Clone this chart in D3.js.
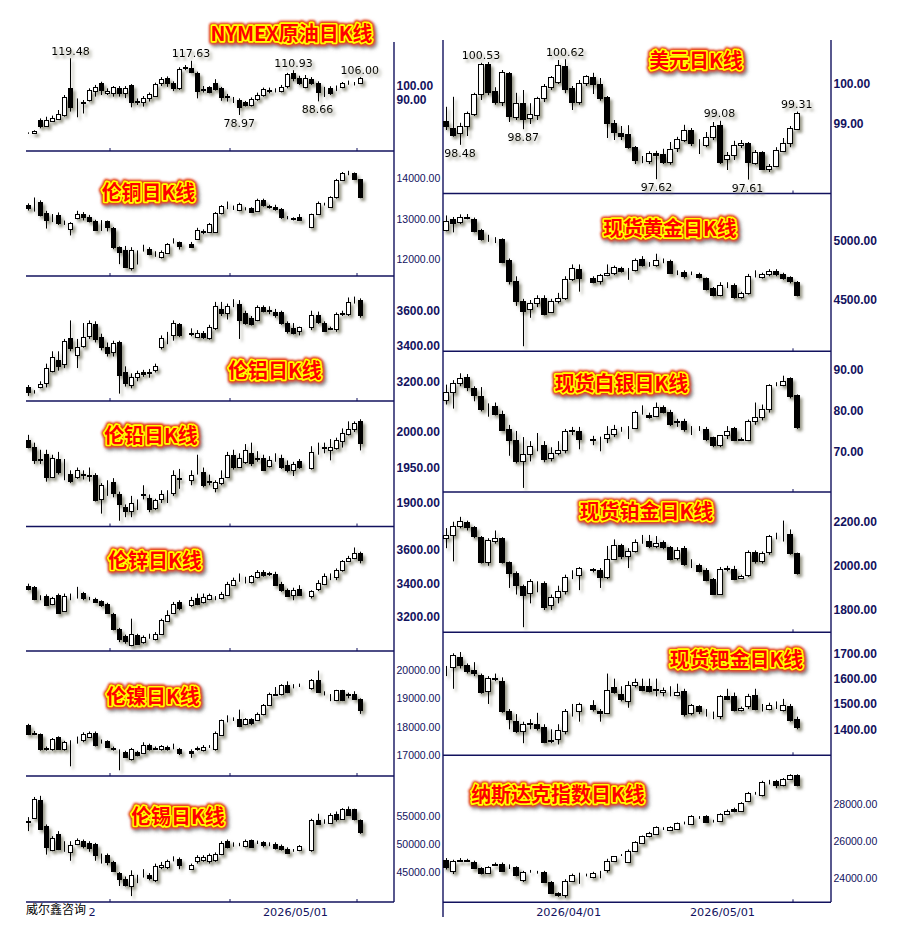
<!DOCTYPE html>
<html><head><meta charset="utf-8">
<script src="https://d3js.org/d3.v7.min.js"></script>
<style>body{margin:0;background:#fff}svg{display:block}</style>
</head><body>
<svg id="c" width="903" height="928"></svg>
<script>
// ---- DATA: daily candles [open, high, low, close]; null = no trading day ----
const oil = [[65.8,66.5,65.5,65.9],[65.8,68,65.5,67.5],[75.4,76.5,69.4,71.1],[71.1,77.7,70.6,75.4],[75,78.5,74.2,77],[76.1,82.5,75.4,79.4],[79,93.2,77.7,92],[98,119.48,81.3,84.9],[86.8,90.8,77.3,86.6],[87.3,89.6,80,88.5],[89.6,98,88.5,96.8],[96.3,100.4,92,99.2],[101.5,102.7,93.2,96.8],[94.4,98,93.2,96.3],[94.9,99.6,92,98.7],[98,99.6,92,94.9],[94.4,99.6,91,98],[100.4,101,84.4,88.5],[88.7,90.8,86.1,88.3],[88.5,92.5,84.9,91.3],[90.8,95,88.5,93.7],[92.5,102,92,101],[102,106,99.6,104.6],[105.1,106.5,99,101.5],[102,103,96,98],[98,113,96.8,111.5],[112.8,114.6,110.9,113],[112.7,117.63,108.8,109.9],[108.7,109.9,90.8,96.3],[97.8,99.6,94.9,96.8],[98.7,99.5,94.4,95.6],[101.5,104.5,96.3,97.3],[98,99,89,92],[92.2,94,88.5,92],[89.9,91.8,87.5,89.6],[89.6,90.8,78.97,84.4],[88,89,84.9,85.8],[85.8,91.5,84.9,90.1],[90.1,94.9,89,92.9],[92.9,98.5,92,97.3],[96.5,98.5,94.4,96.3],[96.6,98,95,96.8],[96.3,100.4,95,99.2],[99.6,109,98,108.2],[108.7,110.93,103,105.1],[105.1,107,100.4,102],[99.2,107.5,98,105.1],[104.4,106,100.4,101.5],[102,103,88.66,95.6],[97.5,99,91.8,97.3],[98,99.5,93.2,94.4],[98.8,100,96,98.7],[98.7,102.5,98,101.5],[102,103.5,100.5,102],[101.5,102.5,100,101.6],[102,106,101.5,105.1]];
const copper = [[13340,13385,13205,13265],[13300,13530,13180,13290],[13410,13460,13060,13100],[13140,13200,12760,12970],[13000,13120,12920,12995],[13100,13160,12850,12890],[12910,12960,12850,12900],[12740,12920,12590,12890],[13015,13200,12990,13120],[13120,13170,12960,13040],[13050,13100,12910,12950],[12950,12980,12700,12720],[12910,12970,12700,12900],[12940,12960,12690,12800],[12780,12800,12250,12310],[12310,12320,11880,12190],[12230,12330,11790,11820],[11780,12300,11720,12230],[12140,12220,11870,12125],[12280,12360,12190,12270],[12250,12300,12100,12130],[12135,12200,12060,12130],[12050,12220,12020,12190],[12160,12400,12130,12380],[12480,12520,12390,12470],[12420,12440,12240,12340],null,[12380,12430,12280,12310],[12500,12780,12480,12730],[12670,12740,12620,12690],[12680,12900,12660,12870],[12680,13170,12650,13140],[13140,13340,13110,13320],[13290,13430,13240,13285],[13265,13330,13220,13260],[13220,13400,13190,13360],[13250,13290,13210,13245],[13260,13290,13160,13180],[13200,13500,13180,13480],[13470,13500,13300,13340],[13310,13350,13250,13300],[13300,13350,13200,13245],[13245,13270,13000,13040],[13020,13070,12990,13015],[13010,13040,12960,13005],[13055,13120,12960,12970],null,[12800,13130,12770,13120],[13120,13430,13100,13400],[13360,13400,13330,13370],[13300,13560,13290,13530],[13530,13990,13500,13960],[13960,14160,13940,14130],[14140,14190,14080,14130],[14130,14150,13960,14000],[13980,13990,13510,13550]];
const aluminium = [[3170,3179,3117,3141],[3142,3150,3130,3140],[3166,3200,3160,3185],[3192,3300,3165,3274],[3260,3370,3250,3336],[3321,3370,3260,3287],[3298,3440,3275,3430],[3443,3545,3370,3387],[3350,3440,3275,3396],[3400,3530,3390,3453],[3457,3545,3440,3532],[3524,3540,3420,3438],[3453,3470,3375,3392],[3392,3420,3340,3362],[3368,3430,3340,3419],[3425,3430,3130,3236],[3255,3285,3170,3189],[3180,3245,3160,3223],[3223,3260,3200,3245],[3255,3265,3225,3241],[3250,3270,3220,3248],[3264,3300,3250,3287],[3396,3460,3380,3443],[3438,3480,3410,3440],[3462,3545,3430,3532],[3524,3530,3450,3462],null,[3472,3500,3455,3470],[3453,3490,3445,3472],[3475,3485,3440,3449],[3443,3520,3435,3509],[3500,3650,3490,3626],[3607,3650,3570,3585],[3585,3640,3550,3626],[3637,3665,3620,3640],[3638,3660,3440,3547],[3585,3600,3520,3532],[3557,3570,3515,3525],[3547,3630,3540,3619],[3619,3630,3590,3600],[3602,3625,3580,3598],[3594,3610,3560,3575],[3590,3600,3520,3532],[3532,3540,3470,3487],[3500,3530,3465,3475],[3485,3510,3460,3505],null,[3505,3600,3490,3575],[3575,3595,3525,3538],[3532,3540,3480,3487],[3500,3510,3490,3498],[3494,3590,3480,3581],[3583,3600,3570,3585],[3581,3675,3570,3651],[3655,3680,3640,3657],[3660,3670,3560,3575]];
const lead = [[1989,1996,1977,1979],[1979,1985,1955,1960],[1962,1975,1955,1961],[1969,1975,1930,1937],[1937,1968,1935,1963],[1962,1972,1940,1944],[1947,1962,1932,1946],[1941,1946,1928,1931],[1936,1950,1934,1946],[1941,1946,1933,1940],[1939,1950,1930,1938],[1939,1942,1902,1904],[1905,1928,1885,1925],[1926,1932,1910,1925],[1929,1935,1908,1914],[1913,1916,1875,1899],[1894,1898,1880,1889],[1889,1910,1880,1900],[1899,1905,1890,1898],[1912,1925,1905,1911],[1907,1912,1887,1891],[1893,1906,1890,1904],[1905,1918,1900,1913],[1909,1918,1900,1908],[1914,1946,1910,1939],[1934,1948,1920,1935],null,[1932,1946,1925,1939],[1947,1968,1940,1946],[1944,1950,1922,1925],[1931,1940,1925,1930],[1921,1932,1915,1930],[1928,1946,1925,1935],[1937,1972,1935,1968],[1968,1975,1947,1951],[1951,1970,1950,1963],[1958,1983,1955,1975],[1970,1985,1952,1957],[1963,1973,1958,1962],[1964,1968,1945,1947],[1952,1966,1950,1960],[1964,1970,1958,1963],[1963,1968,1948,1951],[1954,1960,1943,1946],[1946,1958,1938,1955],[1959,1962,1948,1951],null,[1949,1980,1947,1972],[1975,1985,1968,1974],[1978,1985,1970,1979],[1974,1990,1960,1979],[1977,1992,1975,1989],[1988,2005,1978,1998],[1997,2015,1995,2004],[2004,2015,2000,2012],[2015,2018,1974,1984]];
const zinc = [[3383,3399,3359,3369],[3379,3385,3300,3305],[3320,3330,3300,3318],[3325,3335,3265,3270],[3280,3320,3270,3313],[3333,3340,3220,3226],[3234,3340,3230,3325],[3320,3340,3300,3319],[3340,3380,3310,3339],[3345,3350,3300,3313],[3310,3320,3300,3309],[3310,3315,3285,3290],[3294,3300,3260,3274],[3280,3285,3220,3226],[3220,3225,3120,3126],[3130,3135,3050,3070],[3086,3095,3040,3055],[3035,3190,3025,3100],[3090,3100,3035,3041],[3051,3090,3040,3080],[3081,3100,3070,3080],[3070,3110,3060,3100],[3100,3190,3095,3180],[3175,3240,3170,3210],[3226,3290,3220,3280],[3290,3300,3240,3254],null,[3274,3320,3260,3300],[3313,3340,3270,3280],[3290,3340,3280,3320],[3305,3340,3300,3333],[3313,3325,3300,3314],[3313,3350,3305,3339],[3333,3410,3330,3399],[3393,3435,3385,3419],[3425,3460,3410,3424],[3420,3440,3400,3419],[3409,3450,3400,3445],[3438,3480,3430,3469],[3469,3480,3440,3449],[3460,3470,3445,3459],[3459,3470,3385,3393],[3400,3410,3350,3360],[3360,3370,3320,3325],[3330,3375,3300,3359],[3365,3390,3325,3333],null,[3325,3360,3310,3353],[3365,3420,3355,3405],[3399,3460,3390,3445],[3445,3460,3420,3446],[3440,3490,3420,3479],[3479,3540,3470,3532],[3535,3565,3530,3552],[3552,3615,3545,3584],[3584,3590,3520,3538]];
const nickel = [[18050,18100,17700,17750],[17760,17850,17700,17750],[17750,17760,17150,17225],[17240,17300,17150,17225],[17200,17600,17150,17550],[17640,17660,17200,17225],[17200,17500,17150,17460],[17470,17520,16600,17460],[17520,17650,17400,17520],[17520,17800,17450,17750],[17640,17830,17600,17790],[17790,17830,17300,17340],[17490,17550,17400,17480],[17480,17520,17250,17280],[17230,17300,17150,17220],[17140,17200,16460,17130],[17100,17150,16900,16930],[16870,17250,16800,17200],[17100,17150,16950,16990],[17080,17450,17050,17370],[17370,17400,17150,17200],[17230,17300,17180,17220],[17200,17350,17150,17320],[17300,17330,17150,17200],[17290,17400,17200,17280],[17220,17250,17000,17080],null,[17150,17200,16900,17080],[17230,17300,17150,17220],[17160,17350,17120,17280],[17290,17350,17250,17280],[17200,17830,17150,17790],[17720,18250,17700,18220],[18240,18400,18150,18250],[18270,18330,18200,18280],[18260,18600,17980,18020],[18100,18300,18050,18260],[18260,18300,18050,18140],[18220,18500,18200,18460],[18460,18800,18400,18780],[18780,19200,18750,19170],[19140,19400,19100,19130],[19160,19500,19100,19460],[19480,19600,19180,19220],[19410,19500,19350,19400],[19460,19520,19400,19460],null,[19370,19680,19300,19640],[19640,19980,19200,19220],[19170,19250,19100,19160],[19090,19150,18900,19080],[18930,19300,18900,19280],[19280,19300,18900,18930],[19140,19200,19000,19130],[19170,19250,18950,18990],[18960,19000,18450,18580]];
const tin = [[54000,54800,52300,54100],[54600,58400,54500,57980],[57800,58600,52500,52700],[53200,53500,48100,49500],[48900,51400,48700,51100],[51850,52300,48900,49170],[49900,50500,48600,49880],[48600,50500,47000,49880],[50050,51000,49800,50800],[50500,50800,49200,49650],[50240,50500,48600,49290],[50060,50200,47000,48100],[48000,48300,46500,47980],[47980,48300,46200,46800],[46800,47000,45000,45120],[44880,45000,42500,43810],[43700,44200,42400,42620],[42500,45300,40700,44400],[43800,44500,43000,43810],[44520,45500,44000,44530],[44520,44800,43500,43930],[43500,46500,43200,46080],[45900,46800,45500,46190],[45900,47200,45500,46900],[47250,47800,46900,47270],[47400,47600,45500,46310],null,[45600,46500,45400,46300],[46900,48000,46500,47680],[47100,48000,46800,47680],[46900,48300,46500,48100],[47100,48500,46800,48280],[48280,50500,48000,50240],[50500,50800,49200,49470],[49900,50300,49500,49880],[49880,50200,49600,49890],[49650,50800,49400,50480],[50650,50800,49300,49470],[50230,50600,50000,50240],[50350,50500,49400,49760],[50060,50300,49600,50050],[50060,50300,49000,49290],[49650,49900,48800,49050],[49170,49400,48200,48460],[48880,49100,48600,48870],[48870,49800,48700,49650],null,[48870,54500,48600,54230],[54230,55400,53400,53630],[53900,54400,53600,53930],[53810,55500,53600,55120],[55400,55800,54000,54400],[54500,56400,54300,56190],[56190,56700,55000,55120],[56190,56300,54200,54400],[54230,54400,51800,52140]];
const usd = [[99.08,99.43,98.85,98.95],[98.89,99.68,98.68,98.73],[98.77,99.03,98.48,98.95],[98.95,99.31,98.70,99.27],[99.25,99.78,99.20,99.74],[99.74,100.53,99.60,100.50],[100.50,100.55,99.72,99.81],[99.83,99.92,99.48,99.56],[99.56,100.35,99.45,100.31],[100.28,100.30,99.05,99.20],[99.17,99.78,99.10,99.52],[99.52,99.85,98.87,99.12],[99.14,99.52,99.00,99.25],[99.22,99.68,99.10,99.64],[99.64,100.00,99.55,99.95],[99.93,100.20,99.85,100.17],[100.06,100.60,100.00,100.48],[100.45,100.62,99.77,99.87],[99.89,99.95,99.35,99.56],[99.56,100.10,99.48,100.02],[100.03,100.22,99.95,100.20],[100.18,100.28,99.75,100.00],[100.00,100.15,99.58,99.64],[99.67,99.70,98.65,99.03],[99.03,99.10,98.60,98.81],[98.78,98.95,98.60,98.70],[98.74,98.97,98.38,98.42],[98.43,98.45,98.00,98.10],[98.11,98.20,98.02,98.10],[98.08,98.32,98.00,98.27],[98.27,98.33,97.62,98.22],[98.25,98.38,98.00,98.06],[98.06,98.55,97.98,98.37],[98.39,98.68,98.30,98.62],[98.60,98.98,98.55,98.85],[98.85,98.90,98.45,98.52],[98.50,98.62,98.25,98.50],[98.48,98.80,98.42,98.68],[98.67,99.05,98.60,98.95],[98.98,99.08,98.00,98.06],[98.12,98.30,97.85,98.23],[98.23,98.58,98.10,98.48],[98.48,98.60,98.40,98.53],[98.52,98.55,97.61,98.06],[98.03,98.35,97.98,98.30],[98.30,98.32,97.85,97.87],[97.87,98.00,97.80,97.95],[97.95,98.42,97.92,98.35],[98.33,98.65,98.30,98.52],[98.52,98.95,98.42,98.89],[98.87,99.31,98.85,99.27]];
const gold = [[5093,5213,5079,5169],[5183,5200,5070,5149],[5154,5222,5140,5197],[5195,5225,5180,5197],[5185,5195,5070,5084],[5093,5100,5000,5017],[5018,5050,4990,5016],[5013,5030,4980,5011],[5017,5020,4810,4820],[4840,4850,4630,4657],[4657,4700,4450,4489],[4494,4510,4110,4410],[4427,4500,4350,4475],[4475,4540,4440,4517],[4517,4540,4370,4382],[4400,4510,4390,4494],[4494,4560,4470,4517],[4517,4700,4500,4680],[4680,4800,4660,4770],[4764,4800,4570,4685],null,[4685,4700,4640,4652],[4657,4720,4630,4708],[4708,4800,4700,4728],[4728,4790,4710,4775],[4770,4780,4730,4747],[4756,4770,4670,4755],[4755,4850,4740,4840],[4848,4870,4780,4792],[4798,4820,4780,4798],[4792,4890,4780,4840],[4832,4850,4810,4831],[4831,4840,4720,4728],[4737,4750,4710,4736],[4736,4750,4680,4700],[4720,4740,4710,4719],[4720,4730,4680,4691],[4685,4690,4580,4596],[4601,4610,4530,4545],[4545,4650,4530,4629],[4630,4650,4600,4629],[4629,4640,4510,4522],[4522,4570,4510,4559],[4559,4720,4545,4700],[4700,4750,4690,4701],[4691,4730,4680,4719],[4720,4760,4700,4742],[4742,4760,4700,4720],[4719,4730,4670,4685],[4690,4700,4640,4657],[4652,4660,4530,4545]];
const silver = [[82.7,86.4,81.5,84.6],[84.6,87.5,80.5,86.8],[86.8,89.2,86.0,88.0],[88.4,89.0,84.8,85.7],[85.6,86.0,82.3,83.8],[83.5,85.8,79.8,80.5],[80.9,81.8,78.5,80.8],[81.1,82.0,78.8,79.2],[79.2,80.0,75.0,75.3],[75.6,76.5,68.9,72.9],[72.9,75.0,67.0,67.7],[67.7,73.5,61.0,69.3],[69.3,72.5,67.5,71.2],[71.2,74.5,70.0,71.3],[71.5,72.5,67.3,68.0],[68.4,71.0,67.5,69.6],[69.6,72.5,69.0,70.4],[70.2,75.5,69.5,75.1],[75.1,76.0,74.0,75.2],[75.1,76.0,70.5,73.1],null,[72.9,73.8,71.5,73.0],[72.8,73.6,70.0,72.9],[73.3,76.2,72.0,74.3],[74.3,76.5,73.5,75.6],[75.8,76.0,74.8,75.7],[75.7,76.2,73.0,75.8],[75.7,80.0,75.5,79.7],[79.7,81.3,79.0,79.6],[79.0,79.5,78.0,78.4],[78.6,82.0,78.4,80.8],[80.8,81.3,79.3,79.7],[79.7,80.2,76.2,76.7],[77.4,78.0,76.0,77.3],[77.5,78.0,74.8,75.6],[75.6,76.2,74.0,75.5],[75.7,76.2,75.0,75.8],[75.6,76.0,72.5,73.1],[73.4,73.6,71.0,71.5],[71.5,74.0,71.0,73.9],[73.9,76.2,73.0,75.1],[75.7,76.0,72.5,72.9],[72.9,73.4,72.5,73.0],[72.7,77.8,72.5,77.4],[77.4,82.0,76.5,78.4],[78.4,81.5,77.6,80.5],[80.5,86.5,79.5,86.2],[86.6,87.0,86.0,86.6],[86.4,88.6,86.0,87.4],[88.0,88.2,83.0,83.5],[83.8,84.0,75.5,75.9]];
const platinum = [[2126,2171,2080,2141],[2138,2200,2020,2179],[2179,2222,2170,2202],[2198,2205,2160,2174],[2174,2180,2125,2134],[2129,2135,2010,2017],[2017,2125,2000,2119],[2111,2160,2100,2126],[2126,2130,2010,2017],[2017,2020,1900,1968],[1968,1975,1870,1915],[1907,1915,1722,1870],[1877,1940,1830,1930],[1923,1930,1880,1922],[1922,1930,1800,1812],[1821,1870,1800,1857],[1857,1910,1830,1884],[1886,1960,1870,1948],[1957,1980,1940,1958],[1957,1995,1890,1990],null,[1983,1990,1970,1984],[1983,1990,1900,1948],[1948,2090,1940,2032],[2032,2120,2030,2096],[2096,2100,2030,2043],[2043,2080,1990,2066],[2066,2120,2060,2108],[2111,2140,2100,2112],[2114,2140,2080,2088],[2088,2135,2080,2103],[2108,2115,2075,2084],[2084,2090,2025,2032],[2034,2085,2025,2073],[2081,2090,2000,2008],[2009,2030,1990,2008],[2002,2010,1970,1978],[1983,1990,1930,1937],[1942,1945,1870,1873],[1873,1995,1870,1987],[1987,2000,1975,1988],[1987,2000,1935,1942],[1945,1960,1940,1952],[1957,2070,1950,2063],[2063,2070,2010,2020],[2020,2065,2010,2058],[2063,2140,2050,2134],[2133,2150,2120,2134],[2135,2205,2110,2134],[2144,2165,2050,2058],[2058,2060,1960,1968]];
const palladium = [[1622,1650,1610,1623],[1645,1700,1560,1692],[1684,1705,1640,1655],[1653,1660,1620,1632],[1636,1665,1610,1622],[1613,1620,1540,1547],[1550,1610,1500,1602],[1600,1620,1590,1601],[1592,1605,1465,1474],[1471,1480,1400,1442],[1434,1460,1385,1395],[1395,1430,1345,1421],[1421,1440,1400,1425],[1421,1465,1395,1405],[1410,1420,1345,1350],[1356,1400,1345,1355],[1363,1420,1340,1399],[1395,1480,1380,1471],[1471,1500,1450,1472],[1471,1505,1430,1500],null,[1497,1515,1470,1482],[1474,1480,1430,1465],[1465,1620,1460,1557],[1566,1600,1540,1547],[1540,1570,1510,1521],[1511,1590,1485,1574],[1574,1600,1565,1587],[1570,1600,1550,1557],[1570,1600,1545,1552],[1557,1600,1530,1558],[1547,1565,1530,1557],[1550,1570,1530,1551],[1537,1580,1530,1547],[1553,1560,1450,1460],[1464,1500,1455,1494],[1490,1495,1460,1471],[1468,1480,1450,1469],[1455,1470,1440,1456],[1451,1535,1440,1530],[1530,1560,1515,1521],[1530,1545,1470,1478],[1478,1490,1470,1484],[1490,1540,1480,1530],[1534,1560,1475,1482],[1487,1500,1470,1488],[1482,1505,1475,1497],[1495,1510,1480,1496],[1478,1520,1470,1495],[1490,1500,1430,1438],[1442,1450,1400,1408]];
const nasdaq = [[25000,25090,24470,24590],[24410,25000,24230,24950],[24950,25090,24900,24960],[24950,25050,24900,24960],[24880,24950,24500,24560],[24560,24600,24200,24290],[24290,24650,24250,24590],[24740,24850,24700,24750],[24770,24850,24380,24410],[24650,24750,24500,24660],[24590,24650,24100,24160],[23930,24400,23800,24340],[24340,24450,24300,24350],[24340,24400,24250,24350],[24340,24400,23750,23800],[23800,23850,23150,23210],[23210,23250,23000,23080],[23080,23950,22950,23870],[23870,24250,23800,24200],[24160,24300,23700,24170],[24160,24250,24100,24170],[24050,24350,24000,24290],[24340,24400,24000,24350],[24470,25050,24300,24950],[24950,25200,24900,25180],[25270,25300,25200,25280],[24900,25550,24850,25490],[25490,26000,25450,25950],[25900,26300,25850,26260],[26260,26500,26200,26440],[26390,26800,26350,26740],[26670,26750,26600,26680],[26620,26800,26600,26740],[26670,27000,26600,26980],[26980,27050,26900,26990],[26920,27400,26900,27340],[27280,27350,27200,27290],[27340,27400,27000,27030],[27100,27150,27000,27110],[27100,27500,27050,27460],[27460,27700,27400,27640],[27750,27800,27550,27610],[27640,28100,27600,28050],[28140,28650,28100,28590],[28590,28650,28500,28600],[28460,29250,28400,29180],[29220,29300,29050,29230],[29250,29300,28850,29000],[29000,29400,28950,29360],[29360,29600,29300,29540],[29540,29600,28950,29000]];

// axis tick labels
const oilTicks = [100, 90];
const copperTicks = [14000, 13000, 12000];
const aluminiumTicks = [3600, 3400, 3200];
const leadTicks = [2000, 1950, 1900];
const zincTicks = [3600, 3400, 3200];
const nickelTicks = [20000, 19000, 18000, 17000];
const tinTicks = [55000, 50000, 45000];
const usdTicks = [100, 99];
const goldTicks = [5000, 4500];
const silverTicks = [90, 80, 70];
const platinumTicks = [2200, 2000, 1800];
const palladiumTicks = [1700, 1600, 1500, 1400];
const nasdaqTicks = [28000, 26000, 24000];

// panel titles
const titles = ["NYMEX原油日K线","伦铜日K线","伦铝日K线","伦铅日K线","伦锌日K线","伦镍日K线","伦锡日K线",
                "美元日K线","现货黄金日K线","现货白银日K线","现货铂金日K线","现货钯金日K线","纳斯达克指数日K线"];
// marked highs / lows: [candle index, 'H' or 'L']
const oilMarks = [[7,'H'],[27,'H'],[44,'H'],[55,'H'],[35,'L'],[48,'L']];
const usdMarks = [[5,'H'],[17,'H'],[39,'H'],[50,'H'],[2,'L'],[11,'L'],[30,'L'],[43,'L']];
// date labels
const leftDates = ["2", "2026/05/01"];
const rightDates = ["2026/04/01", "2026/05/01"];
const footer = "威尔鑫咨询";

// ---- LAYOUT ----
const NAVY = "#12125e";
const svg = d3.select("#c");
const defs = svg.append("defs");
const sh = defs.append("filter").attr("id","csh").attr("x","-20%").attr("y","-20%").attr("width","140%").attr("height","140%");
sh.append("feDropShadow").attr("dx",2.5).attr("dy",3).attr("stdDeviation",1.6).attr("flood-color","#6e6e5a").attr("flood-opacity",0.7);
const tsh = defs.append("filter").attr("id","tsh").attr("x","-20%").attr("y","-40%").attr("width","140%").attr("height","180%");
tsh.append("feDropShadow").attr("dx",2).attr("dy",2.5).attr("stdDeviation",1.6).attr("flood-color","#555").attr("flood-opacity",0.75);
const tglow = defs.append("filter").attr("id","tglow").attr("x","-20%").attr("y","-40%").attr("width","140%").attr("height","180%");
tglow.append("feGaussianBlur").attr("stdDeviation",0.9);

const cols = [
  {x: d3.scaleLinear().domain([0,55]).range([28.3,359.7]), w:5, left:26, right:394, lab:396.5},
  {x: d3.scaleLinear().domain([0,50]).range([446,796.7]), w:6, left:443, right:831, lab:833.5}
];
const panels = [
  {d:oil, t:oilTicks, c:0, cal:[100,85.5,90,99.5], tx:291.5, ty:32, bottom:151, marks:oilMarks},
  {d:copper, t:copperTicks, c:0, cal:[14000,178.5,12000,259.3], tx:148.5, ty:191, bottom:276},
  {d:aluminium, t:aluminiumTicks, c:0, cal:[3600,310.7,3200,381.3], tx:275, ty:369, bottom:401},
  {d:lead, t:leadTicks, c:0, cal:[2000,432,1900,503], tx:151, ty:434, bottom:526.5},
  {d:zinc, t:zincTicks, c:0, cal:[3600,550,3200,617], tx:155, ty:559, bottom:651},
  {d:nickel, t:nickelTicks, c:0, cal:[20000,670,17000,755], tx:153, ty:695, bottom:776},
  {d:tin, t:tinTicks, c:0, cal:[55000,816,45000,872], tx:178, ty:815, bottom:902},
  {d:usd, t:usdTicks, c:1, cal:[100,84,99,124], tx:696, ty:59, bottom:193.5, marks:usdMarks},
  {d:gold, t:goldTicks, c:1, cal:[5000,240.7,4500,300], tx:670, ty:227, bottom:351.3},
  {d:silver, t:silverTicks, c:1, cal:[90,370,70,451.3], tx:621.5, ty:382, bottom:492},
  {d:platinum, t:platinumTicks, c:1, cal:[2200,521.7,1800,610], tx:646.5, ty:510, bottom:632.3},
  {d:palladium, t:palladiumTicks, c:1, cal:[1700,653.3,1400,729.3], tx:736.5, ty:658, bottom:755.3},
  {d:nasdaq, t:nasdaqTicks, c:1, cal:[28000,804,24000,878.3], tx:558, ty:793, bottom:902.3}
];
const leftTickX = [110, 230, 357], rightTickX = [793];

// frame
const frame = svg.append("g").attr("stroke", NAVY).attr("stroke-width", 1.4).attr("fill","none");
frame.append("line").attr("x1",394).attr("x2",394).attr("y1",42).attr("y2",902);
frame.append("line").attr("x1",443).attr("x2",443).attr("y1",40).attr("y2",917);
frame.append("line").attr("x1",831).attr("x2",831).attr("y1",40).attr("y2",902);

panels.forEach((p, k) => {
  const col = cols[p.c];
  const y = d3.scaleLinear().domain([p.cal[0], p.cal[2]]).range([p.cal[1], p.cal[3]]);
  // bottom border line and date ticks
  frame.append("line").attr("x1", col.left).attr("x2", col.right).attr("y1", p.bottom).attr("y2", p.bottom);
  (p.c === 0 ? leftTickX : rightTickX).forEach(tx => {
    frame.append("line").attr("x1",tx).attr("x2",tx).attr("y1",p.bottom-3).attr("y2",p.bottom).attr("stroke-width",1);
  });

  // title
  const tg = svg.append("g").attr("font-family","'Noto Sans CJK SC', sans-serif").attr("font-weight",700)
    .attr("font-size",20).attr("text-anchor","middle").attr("dominant-baseline","central");
  const tgs = tg.append("g").attr("filter","url(#tsh)");
  tgs.append("text").attr("x",p.tx).attr("y",p.ty).text(titles[k])
     .attr("fill","#e02000").attr("stroke","#e83a00").attr("stroke-width",6.5).attr("stroke-linejoin","round").attr("filter","url(#tglow)");
  tg.append("text").attr("x",p.tx).attr("y",p.ty).text(titles[k])
     .attr("fill","#ffff00").attr("stroke","#ffff00").attr("stroke-width",3.4).attr("stroke-linejoin","round");
  tg.append("text").attr("x",p.tx).attr("y",p.ty).text(titles[k]).attr("fill","#ff0000");

  // candles
  const g = svg.append("g").attr("filter","url(#csh)");
  const rows = p.d.map((v,i)=>v?{i,o:v[0],h:v[1],l:v[2],c:v[3]}:null).filter(Boolean);
  const w = col.w;
  g.selectAll("line.w").data(rows).join("line")
    .attr("x1", d=>Math.round(col.x(d.i))+0.5).attr("x2", d=>Math.round(col.x(d.i))+0.5)
    .attr("y1", d=>y(d.h)).attr("y2", d=>y(d.l)).attr("stroke","#000").attr("stroke-width",1);
  g.selectAll("rect").data(rows).join("rect")
    .attr("x", d=>Math.round(col.x(d.i)) - Math.floor(w/2) + 0.5)
    .attr("width", w-1)
    .attr("y", d=>Math.round(y(Math.max(d.o,d.c)))+0.5)
    .attr("height", d=>Math.max(0, Math.round(y(Math.min(d.o,d.c))) - Math.round(y(Math.max(d.o,d.c)))))
    .attr("fill", d=> d.c >= d.o ? "#fff" : "#000").attr("stroke","#000").attr("stroke-width",1);

  // high / low marks
  if (p.marks) {
    const mg = svg.append("g").attr("filter","url(#csh)").attr("font-family","'DejaVu Sans', sans-serif")
      .attr("font-size",11).attr("text-anchor","middle").attr("fill","#000");
    p.marks.forEach(([i,t]) => {
      const v = p.d[i];
      const val = t==='H'? v[1] : v[2];
      mg.append("text").attr("x", col.x(i)).attr("y", t==='H' ? y(val)-3.5 : y(val)+12).text(d3.format(".2f")(val));
    });
  }

  // y axis labels
  const ax = svg.append("g").attr("transform",`translate(${col.lab},0)`)
    .call(d3.axisRight(y).tickValues(p.t).tickSize(0).tickPadding(0).tickFormat(d3.format(".2f")));
  ax.select(".domain").remove();
  ax.selectAll("text").attr("fill", NAVY).attr("font-family","'Liberation Sans', Arial, sans-serif")
    .each(function(d){
      const s = d3.format(".2f")(d);
      const long = s.length >= 8;
      d3.select(this).attr("font-size", long ? 10.5 : 12).attr("font-weight", long ? 400 : 700);
    });
  ax.attr("font-size", null).attr("font-family", null);
});

// footer & date labels
svg.append("text").attr("x",26).attr("y",914).attr("font-family","'Noto Sans CJK SC', sans-serif").attr("font-size",12).attr("fill","#000").text(footer);
const dateFont = "'DejaVu Sans', sans-serif";
svg.append("text").attr("x",88.5).attr("y",916).attr("font-family",dateFont).attr("font-size",11.3).attr("fill",NAVY).text(leftDates[0]);
svg.append("text").attr("x",295.5).attr("y",916).attr("text-anchor","middle").attr("font-family",dateFont).attr("font-size",11.3).attr("fill",NAVY).text(leftDates[1]);
[[568.7,rightDates[0]],[722.5,rightDates[1]]].forEach(([x,s]) =>
  svg.append("text").attr("x",x).attr("y",916).attr("text-anchor","middle").attr("font-family",dateFont).attr("font-size",11.3).attr("fill",NAVY).text(s));
</script>
</body></html>
